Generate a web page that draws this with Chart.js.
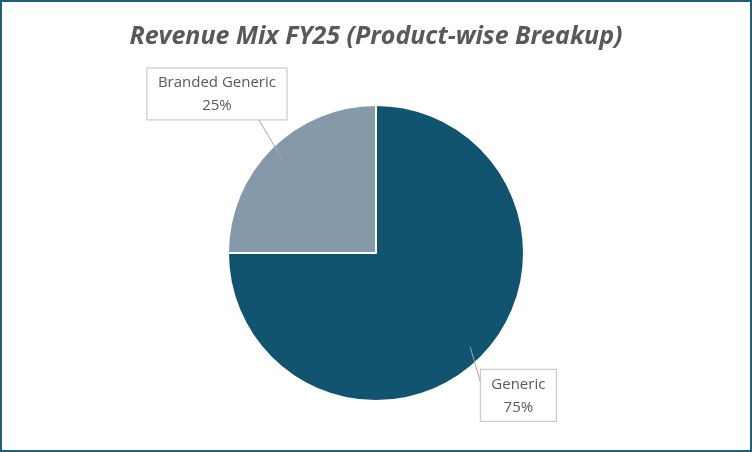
<!DOCTYPE html>
<html>
<head>
<meta charset="utf-8">
<script src="https://cdn.jsdelivr.net/npm/chart.js@4"></script>
<style>
  html, body { margin: 0; padding: 0; background: #fff; }
  .wrap { width: 748px; height: 448px; border: 2px solid #1f5f7a; position: relative; }
</style>
</head>
<body>
<div class="wrap"><canvas id="pie" width="748" height="448"></canvas></div>
<script>
"use strict";

const categories = ["Generic", "Branded Generic"];
const shares = [75, 25];
const sliceColors = ["#11546f", "#8599ab"];
const chartTitle = "Revenue Mix FY25 (Product-wise Breakup)";

// callout boxes: distance from centre (in radii) for each slice
const calloutDist = [1.36, 1.52];

const calloutPlugin = {
    id: "callouts",
    afterDraw(chart) {
        const ctx = chart.ctx;
        ctx.save();
        ctx.font = "bold italic 25px 'Open Sans', sans-serif";
        ctx.fillStyle = "#595959";
        ctx.textAlign = "center";
        ctx.textBaseline = "middle";
        ctx.fillText(chartTitle, chart.width / 2, 35);

        const meta = chart.getDatasetMeta(0);
        ctx.font = "15px 'Open Sans', sans-serif";
        meta.data.forEach((arc, i) => {
            const mid = (arc.startAngle + arc.endAngle) / 2;
            const r = arc.outerRadius;
            const bx = arc.x + Math.cos(mid) * r * calloutDist[i];
            const by = arc.y + Math.sin(mid) * r * calloutDist[i];
            const line1 = categories[i];
            const line2 = shares[i] + "%";
            const w = Math.max(ctx.measureText(line1).width, ctx.measureText(line2).width) + 22;
            const h = 52;
            const left = bx - w / 2, top = by - h / 2;

            // leader line
            const px = arc.x + Math.cos(mid) * r * 0.9;
            const py = arc.y + Math.sin(mid) * r * 0.9;
            const sx = Math.cos(mid) < 0 ? bx + w * 0.3 : left;
            const sy = Math.sin(mid) < 0 ? top + h : top + 12;
            ctx.strokeStyle = "#a6a6a6";
            ctx.lineWidth = 1;
            ctx.beginPath();
            ctx.moveTo(sx, sy);
            ctx.lineTo(px, py);
            ctx.stroke();

            ctx.fillStyle = "#fff";
            ctx.fillRect(left, top, w, h);
            ctx.strokeStyle = "#bfbfbf";
            ctx.strokeRect(left, top, w, h);
            ctx.fillStyle = "#595959";
            ctx.fillText(line1, bx, by - 11);
            ctx.fillText(line2, bx, by + 12);
        });
        ctx.restore();
    }
};

new Chart(document.getElementById("pie"), {
    type: "pie",
    data: {
        labels: categories,
        datasets: [{
            data: shares,
            backgroundColor: sliceColors,
            borderColor: "#ffffff",
            borderWidth: 2
        }]
    },
    options: {
        responsive: false,
        animation: false,
        devicePixelRatio: 1,
        layout: { padding: { top: 102, bottom: 48 } },
        plugins: {
            legend: { display: false },
            title: { display: false },
            tooltip: { enabled: false }
        }
    },
    plugins: [calloutPlugin]
});
</script>
</body>
</html>
